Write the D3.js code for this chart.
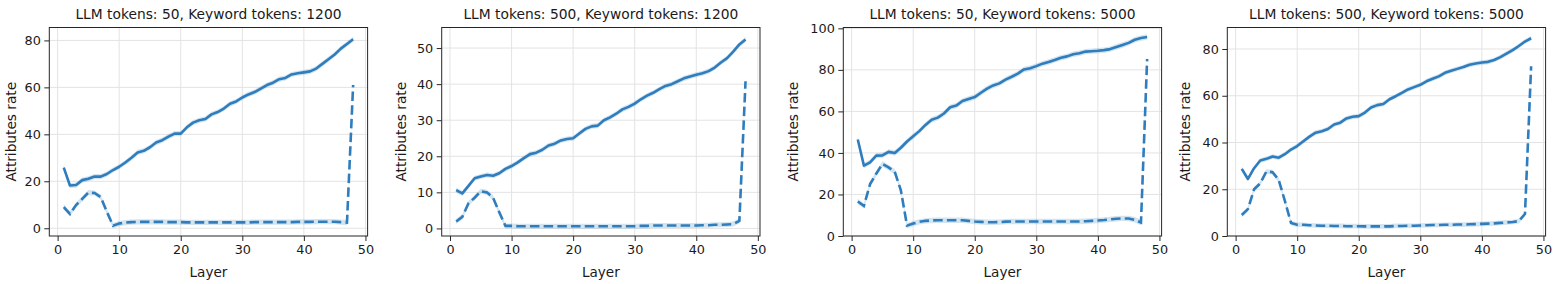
<!DOCTYPE html>
<html>
<head>
<meta charset="utf-8">
<script src="https://cdn.jsdelivr.net/npm/d3@7"></script>
<style>
  body { margin: 0; background: #fff; }
  svg text { font-family: "DejaVu Sans", sans-serif; fill: #1a1a1a; }
</style>
</head>
<body>
<div id="grafico"></div>
<script>
// layers on the x axis
var layers = [1,2,3,4,5,6,7,8,9,10,11,12,13,14,15,16,17,18,19,20,21,22,23,24,
              25,26,27,28,29,30,31,32,33,34,35,36,37,38,39,40,41,42,43,44,45,46,47,48];

var titles = [
    "LLM tokens: 50, Keyword tokens: 1200",
    "LLM tokens: 500, Keyword tokens: 1200",
    "LLM tokens: 50, Keyword tokens: 5000",
    "LLM tokens: 500, Keyword tokens: 5000"
];

var xTicks = [0, 10, 20, 30, 40, 50];
var yTicks = [
    [0, 20, 40, 60, 80],
    [0, 10, 20, 30, 40, 50],
    [0, 20, 40, 60, 80, 100],
    [0, 20, 40, 60, 80]
];
var yRanges = [[-3.3, 85.5], [-2.1, 55.7], [0, 100.4], [0, 89.2]];

// solid line (mean) and dashed line, one pair per panel
var solid_50_1200 = [25.8,18.2,18.4,20.5,21.1,22,22,23.1,24.8,26.2,28,30,32.3,33,34.5,36.5,37.5,39,40.3,40.3,
    43,45,46,46.5,48.5,49.5,51,53,54,55.7,57,58,59.5,61,62,63.5,64,65.5,66,66.4,66.8,68,70,72,74,76.5,78.5,80.5];
var dashed_50_1200 = [9,6.1,9.9,12.5,15.2,15,13.3,7,1.1,2,2.4,2.6,2.7,2.7,2.7,2.7,2.7,2.6,2.6,2.6,
    2.5,2.5,2.5,2.5,2.5,2.5,2.5,2.5,2.5,2.5,2.5,2.6,2.6,2.6,2.6,2.6,2.6,2.6,2.7,2.7,2.7,2.8,2.8,2.8,2.8,2.6,2.4,61];

var solid_500_1200 = [10.6,9.7,11.8,13.9,14.4,14.8,14.6,15.3,16.5,17.3,18.3,19.5,20.6,21,21.8,23,23.5,24.4,24.8,25,
    26.3,27.6,28.3,28.5,30,30.8,31.8,33,33.7,34.6,35.8,36.8,37.6,38.6,39.5,40,40.8,41.6,42.1,42.6,43,43.6,44.6,46,47.2,49,51,52.4];
var dashed_500_1200 = [1.9,3.2,7,8.5,10.3,10,8.5,4.5,0.7,0.7,0.6,0.6,0.6,0.6,0.6,0.6,0.6,0.6,0.6,0.6,
    0.6,0.6,0.6,0.6,0.6,0.6,0.6,0.6,0.6,0.6,0.7,0.7,0.8,0.8,0.8,0.8,0.8,0.8,0.8,0.8,0.9,0.9,1,1,1.1,1.2,2.1,40.8];

var solid_50_5000 = [46.5,33.9,35.5,38.7,38.8,40.5,40,42.5,45.5,48,50.5,53.5,56,57,59,62,62.8,65,66,66.9,
    69,71,72.5,73.5,75.3,76.7,78.2,80.2,80.8,81.8,83,83.8,84.8,85.8,86.5,87.5,88,88.8,89,89.2,89.5,90,91,92,93,94.5,95.3,95.8];
var dashed_50_5000 = [16.6,14.5,25,30,34.7,33,31,22,5,6,6.8,7.3,7.5,7.6,7.6,7.6,7.6,7.6,7.3,7,
    6.8,6.6,6.6,6.7,6.9,7,7,7,7,7,7,7,7,7,7,7,7,7.1,7.3,7.5,7.7,8,8.3,8.5,8.4,7.8,6.5,85.2];

var solid_500_5000 = [28.7,24.4,29,32.3,33,34,33.5,35,37,38.5,40.5,42.5,44.2,44.8,45.8,47.7,48.5,50.3,51,51.3,
    52.8,55,56,56.5,58.5,59.8,61.2,62.7,63.7,64.7,66.2,67.3,68.3,69.8,70.7,71.5,72.3,73.3,73.8,74.2,74.5,75.3,76.5,78,79.5,81.3,83.2,84.6];
var dashed_500_5000 = [9,11.5,20,22.5,27.6,27.3,24,15,5.6,4.8,4.8,4.6,4.5,4.4,4.4,4.3,4.3,4.2,4.2,4.2,
    4.1,4.1,4.1,4.1,4.1,4.3,4.3,4.4,4.4,4.5,4.6,4.7,4.7,4.8,4.8,4.9,4.9,5,5.1,5.2,5.3,5.4,5.6,5.8,6,6.4,9.4,72.6];

// half width of the shaded band, per panel
var bandHalf = [1.1, 0.7, 1.3, 1.0];

var solidSeries = [solid_50_1200, solid_500_1200, solid_50_5000, solid_500_5000];
var dashedSeries = [dashed_50_1200, dashed_500_1200, dashed_50_5000, dashed_500_5000];

var width = 1555, height = 284;
var panelLeft = [49.3, 441.7, 843.3, 1227.3];
var panelW = 318.3, plotTop = 27.5, plotBottom = 236;
var lineColor = "#2f7dbd";

var svg = d3.select("#grafico").append("svg")
    .attr("width", width).attr("height", height);

for (var p = 0; p < 4; p++) {
    var g = svg.append("g").attr("transform", "translate(" + panelLeft[p] + ",0)");

    var x = d3.scaleLinear().domain([-1.35, 50.35]).range([0, panelW]);
    var y = d3.scaleLinear().domain(yRanges[p]).range([plotBottom, plotTop]);

    // grid
    g.selectAll(".gx").data(xTicks).enter().append("line")
        .attr("x1", function(d) { return x(d); }).attr("x2", function(d) { return x(d); })
        .attr("y1", plotTop).attr("y2", plotBottom)
        .attr("stroke", "#e3e3e3").attr("stroke-width", 1);
    g.selectAll(".gy").data(yTicks[p]).enter().append("line")
        .attr("y1", function(d) { return y(d); }).attr("y2", function(d) { return y(d); })
        .attr("x1", 0).attr("x2", panelW)
        .attr("stroke", "#e3e3e3").attr("stroke-width", 1);

    var s = solidSeries[p], dsh = dashedSeries[p], h = bandHalf[p];

    var area = d3.area()
        .x(function(d, i) { return x(layers[i]); })
        .y0(function(d) { return y(d - h); })
        .y1(function(d) { return y(d + h); });
    var line = d3.line()
        .x(function(d, i) { return x(layers[i]); })
        .y(function(d) { return y(d); });

    [s, dsh].forEach(function(arr) {
        g.append("path").datum(arr).attr("d", area)
            .attr("fill", "#1f77b4").attr("fill-opacity", 0.2);
    });
    g.append("path").datum(s).attr("d", line)
        .attr("fill", "none").attr("stroke", lineColor).attr("stroke-width", 2.6)
        .attr("stroke-linejoin", "round");
    g.append("path").datum(dsh).attr("d", line)
        .attr("fill", "none").attr("stroke", lineColor).attr("stroke-width", 2.6)
        .attr("stroke-dasharray", "9.5,4.2");

    // axes
    var xAxis = g.append("g").attr("transform", "translate(0," + plotBottom + ")")
        .call(d3.axisBottom(x).tickValues(xTicks).tickSize(5).tickPadding(3.5));
    var yAxis = g.append("g")
        .call(d3.axisLeft(y).tickValues(yTicks[p]).tickSize(5).tickPadding(3.5));
    [xAxis, yAxis].forEach(function(a) {
        a.select(".domain").remove();
        a.selectAll("line").attr("stroke", "#262626").attr("stroke-width", 1);
        a.selectAll("text").style("font-size", "12.8px")
            .style("font-family", "DejaVu Sans, sans-serif").attr("fill", "#111");
    });

    g.append("rect").attr("x", 0).attr("y", plotTop).attr("width", panelW).attr("height", plotBottom - plotTop)
        .attr("fill", "none").attr("stroke", "#262626").attr("stroke-width", 1);

    g.append("text").attr("x", panelW / 2).attr("y", 19).attr("text-anchor", "middle")
        .style("font-size", "13.8px").text(titles[p]);
    g.append("text").attr("x", panelW / 2).attr("y", 277).attr("text-anchor", "middle")
        .style("font-size", "13.6px").text("Layer");
}

// y labels
var yLabelX = [11, 401.5, 793, 1185.5];
yLabelX.forEach(function(lx) {
    svg.append("text").attr("transform", "translate(" + lx + "," + ((plotTop + plotBottom) / 2) + ") rotate(-90)")
        .attr("text-anchor", "middle").attr("dy", "0.35em")
        .style("font-size", "13.7px").text("Attributes rate");
});
</script>
</body>
</html>
